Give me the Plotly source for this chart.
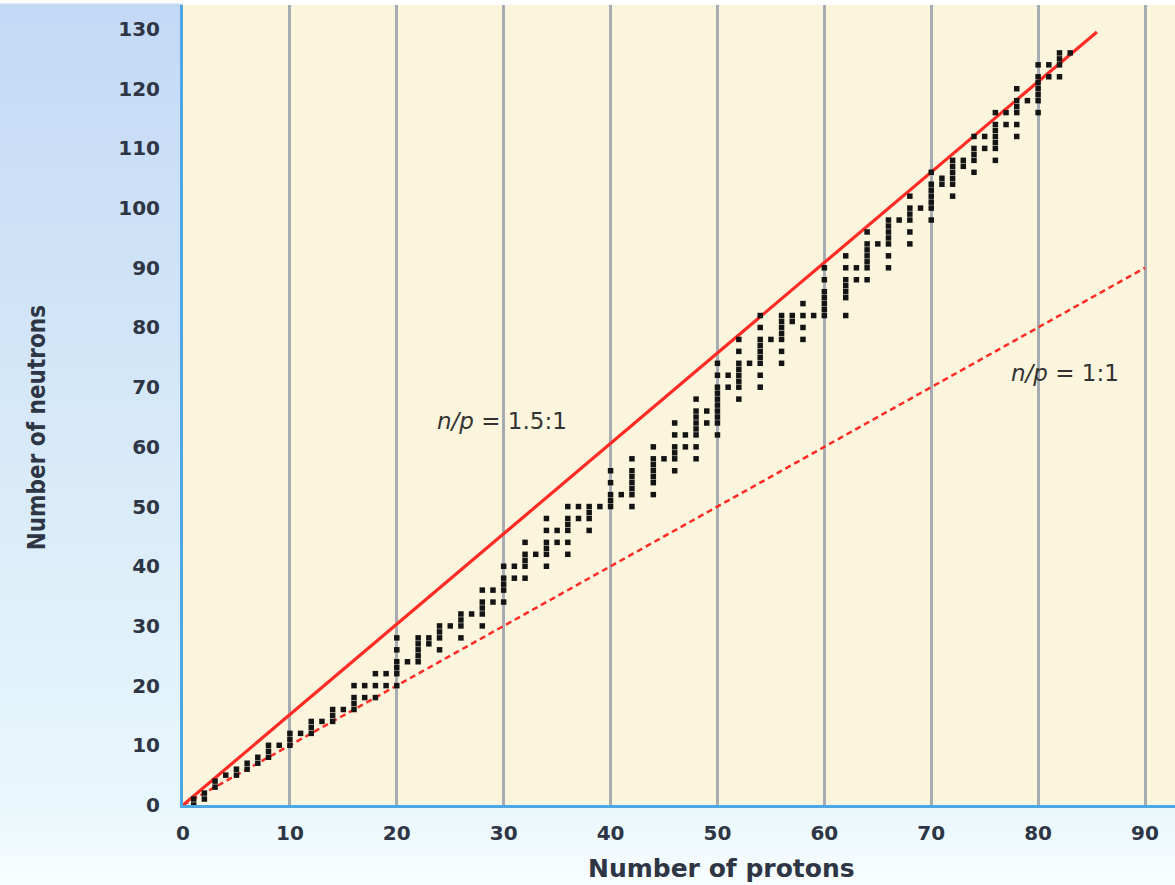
import plotly.graph_objects as go

# ---- data: stable nuclides (protons Z, neutrons N) ----
protons = [1,1, 2,2, 3,3, 4, 5,5, 6,6, 7,7, 8,8,8, 9, 10,10,10, 11, 12,12,12, 13,
           14,14,14, 15, 16,16,16,16, 17,17, 18,18,18, 19,19, 20,20,20,20,20,20,
           21, 22,22,22,22,22, 23,23, 24,24,24,24, 25, 26,26,26,26, 27,
           28,28,28,28,28, 29,29, 30,30,30,30,30, 31,31, 32,32,32,32,32, 33,
           34,34,34,34,34,34, 35,35, 36,36,36,36,36,36, 37,37, 38,38,38,38, 39,
           40,40,40,40,40, 41, 42,42,42,42,42,42,42,
           44,44,44,44,44,44,44, 45, 46,46,46,46,46,46, 47,47,
           48,48,48,48,48,48,48,48, 49,49, 50,50,50,50,50,50,50,50,50,50,
           51,51, 52,52,52,52,52,52,52,52, 53, 54,54,54,54,54,54,54,54,54, 55,
           56,56,56,56,56,56,56, 57,57, 58,58,58,58, 59, 60,60,60,60,60,60,60,
           62,62,62,62,62,62,62, 63,63, 64,64,64,64,64,64,64, 65,
           66,66,66,66,66,66,66, 67, 68,68,68,68,68,68, 69,
           70,70,70,70,70,70,70, 71,71, 72,72,72,72,72,72, 73,73,
           74,74,74,74,74, 75,75, 76,76,76,76,76,76,76, 77,77,
           78,78,78,78,78,78, 79, 80,80,80,80,80,80,80, 81,81, 82,82,82,82, 83]
neutrons = [0,1, 1,2, 3,4, 5, 5,6, 6,7, 7,8, 8,9,10, 10, 10,11,12, 12, 12,13,14, 14,
            14,15,16, 16, 16,17,18,20, 18,20, 18,20,22, 20,22, 20,22,23,24,26,28,
            24, 24,25,26,27,28, 27,28, 26,28,29,30, 30, 28,30,31,32, 32,
            30,32,33,34,36, 34,36, 34,36,37,38,40, 38,40, 38,40,41,42,44, 42,
            40,42,43,44,46,48, 44,46, 42,44,46,47,48,50, 48,50, 46,48,49,50, 50,
            50,51,52,54,56, 52, 50,52,53,54,55,56,58,
            52,54,55,56,57,58,60, 58, 56,58,59,60,62,64, 60,62,
            58,60,62,63,64,65,66,68, 64,66, 62,64,65,66,67,68,69,70,72,74,
            70,72, 68,70,71,72,73,74,76,78, 74, 70,72,74,75,76,77,78,80,82, 78,
            74,76,78,79,80,81,82, 81,82, 78,80,82,84, 82, 82,83,84,85,86,88,90,
            82,85,86,87,88,90,92, 88,90, 88,90,91,92,93,94,96, 94,
            90,92,94,95,96,97,98, 98, 94,96,98,99,100,102, 100,
            98,100,101,102,103,104,106, 104,105, 102,104,105,106,107,108, 107,108,
            106,108,109,110,112, 110,112, 108,110,111,112,113,114,116, 114,116,
            112,114,116,117,118,120, 118, 116,118,119,120,121,122,124, 122,124, 122,124,125,126, 126]

ratio_15_x = [0, 85.5]
ratio_15_y = [0, 129.5]
ratio_11_x = [0, 90]
ratio_11_y = [0, 90]

x_ticks = [0, 10, 20, 30, 40, 50, 60, 70, 80, 90]
y_ticks = [0, 10, 20, 30, 40, 50, 60, 70, 80, 90, 100, 110, 120, 130]

# ---- figure ----
W, H = 1175, 885
ML, MR, MT, MB = 183, 0, 5, 80
PW, PH = W - ML - MR, H - MT - MB

TXT = "#2e3544"
RED = "#ff2b24"

fig = go.Figure()

fig.add_trace(go.Scatter(x=ratio_11_x, y=ratio_11_y, mode="lines",
                         line=dict(color=RED, width=2.5, dash="6px,4px"),
                         hoverinfo="skip", showlegend=False))
fig.add_trace(go.Scatter(x=ratio_15_x, y=ratio_15_y, mode="lines",
                         line=dict(color=RED, width=3.2),
                         hoverinfo="skip", showlegend=False))
fig.add_trace(go.Scatter(x=protons, y=neutrons, mode="markers",
                         marker=dict(color="#141414", size=5.5, symbol="square"),
                         cliponaxis=False, showlegend=False))

# gradient bands for the light-blue margins (styling only)
def mix(c1, c2, t):
    a = [int(c1[i:i+2], 16) for i in (1, 3, 5)]
    b = [int(c2[i:i+2], 16) for i in (1, 3, 5)]
    return "#%02x%02x%02x" % tuple(round(a[k] + (b[k] - a[k]) * t) for k in range(3))

shapes = []
nb = 40
top_c, bot_c = "#c3d9f5", "#e8f7fc"
for i in range(nb):
    y0 = 1 - i / nb
    y1 = 1 - (i + 1) / nb
    shapes.append(dict(type="rect", xref="paper", yref="paper",
                       x0=-ML / PW, x1=0, y0=y1, y1=y0 + 0.002,
                       fillcolor=mix(top_c, bot_c, i / (nb - 1)),
                       line=dict(width=0), layer="below"))
nb2 = 10
for i in range(nb2):
    y0 = -i * (MB / PH) / nb2
    y1 = -(i + 1) * (MB / PH) / nb2
    shapes.append(dict(type="rect", xref="paper", yref="paper",
                       x0=-ML / PW, x1=1, y0=y1, y1=y0 + 0.001,
                       fillcolor=mix("#e8f7fc", "#f8fdff", i / (nb2 - 1)),
                       line=dict(width=0), layer="below"))

fig.update_layout(
    width=W, height=H,
    margin=dict(l=ML, r=MR, t=MT, b=MB, pad=0),
    paper_bgcolor="#ffffff",
    plot_bgcolor="#fcf5dd",
    shapes=shapes,
    showlegend=False,
    font=dict(family="DejaVu Sans", color=TXT),
    xaxis=dict(range=[0, PW / 10.689], tickmode="array", tickvals=x_ticks,
               ticktext=[str(v) for v in x_ticks],
               showgrid=True, gridcolor="#a7acb2", gridwidth=3,
               zeroline=False, showline=True, linecolor="#4ea6e3", linewidth=3,
               ticks="", ticklabelstandoff=8,
               tickfont=dict(family="DejaVu Sans", size=20, color=TXT, weight="bold")),
    yaxis=dict(range=[0, PH / 5.969], tickmode="array", tickvals=y_ticks,
               ticktext=[str(v) for v in y_ticks],
               showgrid=False, zeroline=False, showline=True,
               linecolor="#4ea6e3", linewidth=3,
               ticks="", ticklabelstandoff=16,
               tickfont=dict(family="DejaVu Sans", size=20, color=TXT, weight="bold")),
)

fig.add_annotation(xref="x", yref="paper", x=50.4, y=(805 - 868) / PH,
                   text="Number of protons", showarrow=False,
                   xanchor="center", yanchor="middle",
                   font=dict(family="DejaVu Sans", size=25, color=TXT, weight="bold"))
fig.add_annotation(xref="paper", yref="y", x=(37 - ML) / PW, y=63.1,
                   text="Number of neutrons", showarrow=False, textangle=-90,
                   xanchor="center", yanchor="middle",
                   font=dict(family="Liberation Sans Narrow, DejaVu Sans Condensed, Liberation Sans",
                             size=24, color=TXT, weight="bold"))
fig.add_annotation(xref="x", yref="y", x=29.8, y=64.3,
                   text="<i>n/p</i> = 1.5:1", showarrow=False,
                   font=dict(family="DejaVu Sans", size=23, color="#333333"))
fig.add_annotation(xref="x", yref="y", x=82.5, y=72.4,
                   text="<i>n/p</i> = 1:1", showarrow=False,
                   font=dict(family="DejaVu Sans", size=23, color="#333333"))

fig.write_html("out.html", config={"displayModeBar": False},
               post_script="document.body.style.margin='0px';document.body.style.padding='0px';")
